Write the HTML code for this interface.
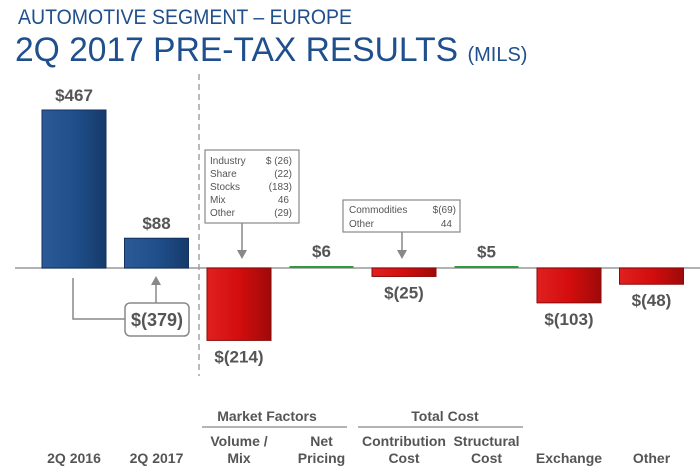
<!DOCTYPE html>
<html><head><meta charset="utf-8"><style>
body{margin:0;background:#fff;width:700px;height:469px;overflow:hidden;font-family:"Liberation Sans",sans-serif}
</style></head><body>
<svg id="c" width="700" height="469" xmlns="http://www.w3.org/2000/svg">
<defs>
<linearGradient id="gb" x1="0" y1="0" x2="1" y2="0"><stop offset="0" stop-color="#2c5a96"/><stop offset="0.5" stop-color="#1f4f8c"/><stop offset="1" stop-color="#163a6a"/></linearGradient>
<linearGradient id="gr" x1="0" y1="0" x2="1" y2="0"><stop offset="0" stop-color="#e02020"/><stop offset="0.5" stop-color="#d40d0d"/><stop offset="1" stop-color="#9e0a0a"/></linearGradient>
</defs>
<text x="18" y="24" font-size="21" fill="#1f4f8c" textLength="334" lengthAdjust="spacingAndGlyphs">AUTOMOTIVE SEGMENT – EUROPE</text>
<text x="15" y="61" font-size="34" fill="#1f4f8c"><tspan textLength="443" lengthAdjust="spacingAndGlyphs">2Q 2017 PRE-TAX RESULTS</tspan> <tspan font-size="20">(MILS)</tspan></text>
<line x1="199" y1="74" x2="199" y2="376" stroke="#777" stroke-dasharray="6,4"/>
<line x1="15" y1="268" x2="700" y2="268" stroke="#999" stroke-width="1.5"/>
<g id="bars"></g>
<g fill="none" stroke="#888" stroke-width="1.5">
<polyline points="73,278 73,319 125,319"/>
<line x1="156" y1="303" x2="156" y2="284"/>
<polygon points="151,285 161,285 156,276" fill="#888" stroke="none"/>
<rect x="125" y="303" width="64" height="33" rx="5" fill="#fff"/>
</g>
<text x="157" y="326" font-size="18" font-weight="bold" fill="#555" text-anchor="middle">$(379)</text>
<g font-size="10" fill="#555">
<rect x="205" y="150" width="94" height="73" fill="#fff" stroke="#888" stroke-width="1.2"/>
<line x1="242" y1="223" x2="242" y2="252" stroke="#888" stroke-width="1.5"/>
<polygon points="237,250 247,250 242,259" fill="#888"/>
<text x="210" y="164">Industry</text><text x="292" y="164" text-anchor="end">$ (26)</text>
<text x="210" y="177">Share</text><text x="292" y="177" text-anchor="end">(22)</text>
<text x="210" y="190">Stocks</text><text x="292" y="190" text-anchor="end">(183)</text>
<text x="210" y="203">Mix</text><text x="289" y="203" text-anchor="end">46</text>
<text x="210" y="216">Other</text><text x="292" y="216" text-anchor="end">(29)</text>
</g>
<g font-size="10" fill="#555">
<rect x="343" y="200" width="117" height="32" fill="#fff" stroke="#888" stroke-width="1.2"/>
<line x1="402" y1="232" x2="402" y2="252" stroke="#888" stroke-width="1.5"/>
<polygon points="397,250 407,250 402,259" fill="#888"/>
<text x="349" y="213">Commodities</text><text x="456" y="213" text-anchor="end">$(69)</text>
<text x="349" y="227">Other</text><text x="452" y="227" text-anchor="end">44</text>
</g>
<g font-size="14" font-weight="bold" fill="#555" text-anchor="middle">
<text x="267" y="421">Market Factors</text>
<line x1="202" y1="427" x2="347" y2="427" stroke="#888" stroke-width="1.2"/>
<text x="445" y="421">Total Cost</text>
<line x1="358" y1="427" x2="523" y2="427" stroke="#888" stroke-width="1.2"/>
</g>
<g id="cats" font-size="14" font-weight="bold" fill="#555" text-anchor="middle"></g>
</svg>
<script>
const categories=[["2Q 2016"],["2Q 2017"],["Volume /","Mix"],["Net","Pricing"],["Contribution","Cost"],["Structural","Cost"],["Exchange"],["Other"]];
const values=[467,88,-214,6,-25,5,-103,-48];
const valueLabels=["$467","$88","$(214)","$6","$(25)","$5","$(103)","$(48)"];
const kinds=["total","total","delta","delta","delta","delta","delta","delta"];
const NS="http://www.w3.org/2000/svg";
const base=268, scale=158/467;
function y(v){return base-v*scale;}
function xc(i){return 74+i*82.5;}
const bw=64;
const bars=document.getElementById('bars'), cats=document.getElementById('cats');
values.forEach((v,i)=>{
  const x=xc(i)-bw/2;
  const top=Math.min(y(v),base), h=Math.max(Math.abs(y(v)-base),1);
  const r=document.createElementNS(NS,'rect');
  
  
  r.setAttribute('x',x);
  if(kinds[i]!=="total" && Math.abs(v)<10){
    r.setAttribute('y',base-2);r.setAttribute('height',2);r.setAttribute('fill','#2e9a3a');
  } else {
    r.setAttribute('y',top);r.setAttribute('height',h);
    r.setAttribute('fill',v>=0?'url(#gb)':'url(#gr)');
    r.setAttribute('stroke',v>=0?'#123060':'#8a0a0a');r.setAttribute('stroke-width','1');
  }
  r.setAttribute('width',bw);
  bars.appendChild(r);
  const t=document.createElementNS(NS,'text');
  
  
  t.setAttribute('x',xc(i));
  t.setAttribute('y',v>=0?top-9:top+h+22);
  t.setAttribute('font-size','17');t.setAttribute('font-weight','bold');t.setAttribute('fill','#555');t.setAttribute('text-anchor','middle');
  t.textContent=valueLabels[i];
  bars.appendChild(t);
  const lines=categories[i];
  lines.forEach((s,j)=>{
    const c=document.createElementNS(NS,'text');
    
    
    c.setAttribute('x',xc(i));
    c.setAttribute('y',463-(lines.length-1-j)*17);
    c.textContent=s;
    cats.appendChild(c);
  });
});
</script>
</body></html>
